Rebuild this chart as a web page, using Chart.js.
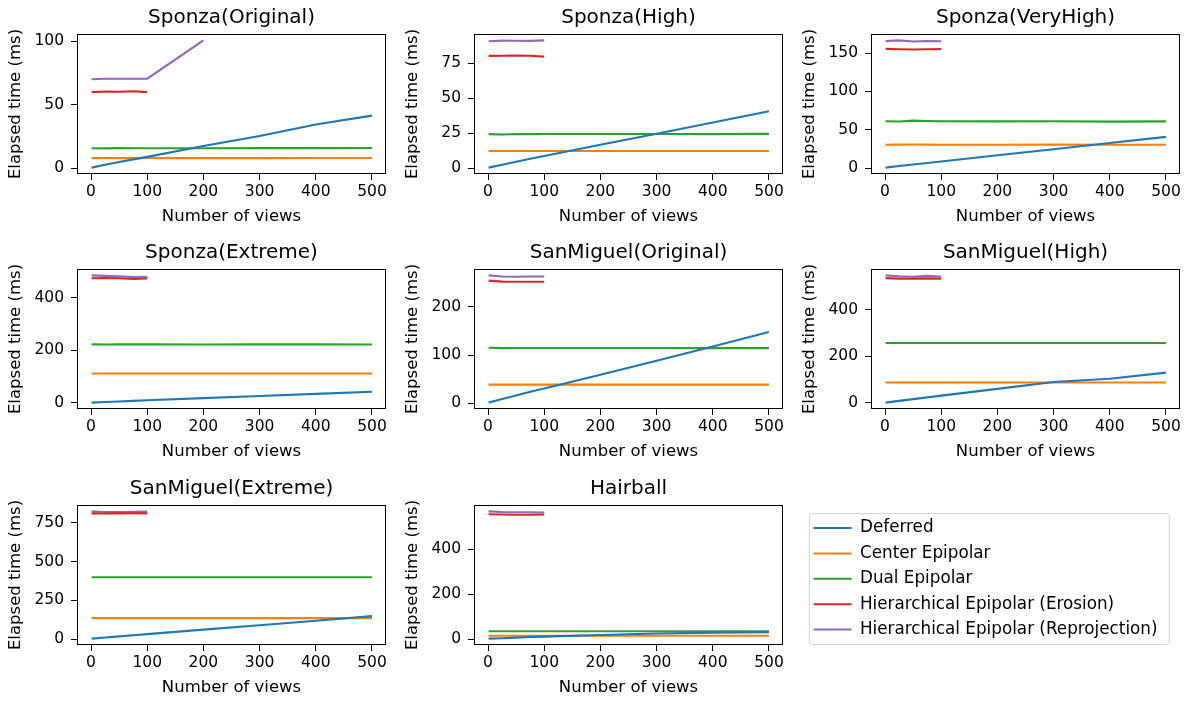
<!DOCTYPE html>
<html>
<head>
<meta charset="utf-8">
<script src="https://cdn.jsdelivr.net/npm/chart.js@4/dist/chart.umd.min.js"></script>
<style>
html,body{margin:0;padding:0;background:#fff;width:1190px;height:702px;overflow:hidden;position:relative;}
.cell{position:absolute;width:397px;height:236px;}
#legendFrame{position:absolute;left:809px;top:513px;width:359px;height:130px;border:1px solid #d6d6d6;border-radius:4px;box-sizing:content-box;}
#legendWrap{position:absolute;left:805px;top:511px;width:700px;height:170px;}
</style>
</head>
<body>
<div id="legendFrame"></div>
<div id="legendWrap"><canvas id="legendCanvas" width="700" height="170"></canvas></div>
<script>
// ---------- data ----------
const views = [1, 25, 50, 75, 100, 200, 300, 400, 500];
const xTicks = [0, 100, 200, 300, 400, 500];
const seriesNames = ['Deferred', 'Center Epipolar', 'Dual Epipolar', 'Hierarchical Epipolar (Erosion)', 'Hierarchical Epipolar (Reprojection)'];
const seriesColors = ['#1f77b4', '#ff7f0e', '#2ca02c', '#d62728', '#9467bd'];
const titles = ['Sponza(Original)', 'Sponza(High)', 'Sponza(VeryHigh)', 'Sponza(Extreme)', 'SanMiguel(Original)', 'SanMiguel(High)', 'SanMiguel(Extreme)', 'Hairball'];

// Sponza(Original)
const soDeferred = [0.5, 2.8, 4.9, 7.0, 9.0, 17.5, 25.5, 34.5, 41.5];
const soCenter   = [8.0, 8.1, 8.0, 8.0, 8.1, 8.0, 8.0, 8.1, 8.1];
const soDual     = [15.8, 15.7, 15.9, 15.8, 15.8, 15.8, 15.9, 15.9, 16.0];
const soErosion  = [60.0, 60.5, 60.3, 60.7, 60.0];
const soReproj   = [70.2, 70.6, 70.5, 70.6, 70.6, 100.8];
const soTicks    = [0, 50, 100];

// Sponza(High)
const shDeferred = [0.3, 2.4, 4.5, 6.6, 8.6, 16.6, 24.5, 32.6, 40.6];
const shCenter   = [12.2, 12.2, 12.2, 12.2, 12.2, 12.2, 12.2, 12.2, 12.2];
const shDual     = [24.2, 24.0, 24.3, 24.2, 24.3, 24.3, 24.3, 24.2, 24.4];
const shErosion  = [80.1, 80.2, 80.4, 80.2, 79.6];
const shReproj   = [90.6, 91.0, 90.9, 90.8, 91.2];
const shTicks    = [0, 25, 50, 75];

// Sponza(VeryHigh)
const svDeferred = [0.5, 2.6, 4.6, 6.6, 8.6, 16.6, 24.6, 32.6, 40.6];
const svCenter   = [30.4, 30.5, 30.6, 30.5, 30.4, 30.4, 30.5, 30.4, 30.4];
const svDual     = [61.0, 60.7, 61.8, 61.3, 61.0, 60.9, 61.0, 60.6, 60.9];
const svErosion  = [155.5, 155.0, 154.7, 155.0, 155.2];
const svReproj   = [165.6, 166.6, 165.2, 165.7, 165.5];
const svTicks    = [0, 50, 100, 150];

// Sponza(Extreme)
const seDeferred = [1.0, 3.2, 5.4, 7.6, 9.8, 18.0, 26.0, 34.3, 42.5];
const seCenter   = [111.5, 111.5, 111.5, 111.5, 111.5, 111.5, 111.5, 111.5, 111.5];
const seDual     = [222.0, 221.8, 222.0, 222.0, 222.0, 221.8, 222.0, 222.0, 221.8];
const seErosion  = [473, 474, 473, 470, 472];
const seReproj   = [484, 482, 480, 478, 479];
const seTicks    = [0, 200, 400];

// SanMiguel(Original)
const moDeferred = [1.5, 9.0, 16.5, 24.0, 31.0, 59.5, 88.5, 118.0, 148.0];
const moCenter   = [38.8, 38.8, 38.8, 38.8, 38.8, 38.8, 38.8, 38.8, 38.8];
const moDual     = [115.3, 114.6, 114.7, 114.8, 114.8, 114.8, 114.7, 114.6, 114.5];
const moErosion  = [254.5, 252.5, 252.3, 252.4, 252.4];
const moReproj   = [265.5, 263.0, 262.7, 263.0, 263.0];
const moTicks    = [0, 100, 200];

// SanMiguel(High)
const mhDeferred = [1.5, 9.0, 16.5, 24.0, 31.5, 60.5, 90.0, 104.0, 130.0];
const mhCenter   = [87.5, 87.5, 87.5, 87.5, 87.5, 87.5, 87.5, 87.5, 87.5];
const mhDual     = [256.5, 256.5, 256.5, 256.5, 256.5, 256.5, 256.5, 256.5, 256.5];
const mhErosion  = [534, 532, 532, 533, 532];
const mhReproj   = [546, 542, 540, 544, 541];
const mhTicks    = [0, 200, 400];

// SanMiguel(Extreme)
const meDeferred = [3.0, 10.0, 17.5, 25.0, 32.0, 61.0, 89.5, 119.0, 148.5];
const meCenter   = [135.5, 135.5, 135.5, 135.5, 135.5, 135.5, 135.5, 135.5, 135.5];
const meDual     = [399, 399, 399, 399, 399, 399, 399, 399, 399];
const meErosion  = [812, 811, 812, 813, 812];
const meReproj   = [825, 821, 820, 822, 823];
const meTicks    = [0, 250, 500, 750];

// Hairball
const hbDeferred = [3.0, 5.0, 7.5, 10.0, 12.0, 19.0, 26.0, 29.5, 31.5];
const hbCenter   = [15.5, 15.5, 15.5, 15.5, 15.5, 15.6, 15.6, 15.6, 15.6];
const hbDual     = [35.5, 35.5, 35.5, 35.5, 35.5, 35.5, 35.5, 35.5, 35.5];
const hbErosion  = [555, 554, 553, 553, 554];
const hbReproj   = [568, 565, 564, 564, 563];
const hbTicks    = [0, 200, 400];

const panels = [
  {title: titles[0], ticks: soTicks, series: [soDeferred, soCenter, soDual, soErosion, soReproj]},
  {title: titles[1], ticks: shTicks, series: [shDeferred, shCenter, shDual, shErosion, shReproj]},
  {title: titles[2], ticks: svTicks, series: [svDeferred, svCenter, svDual, svErosion, svReproj]},
  {title: titles[3], ticks: seTicks, series: [seDeferred, seCenter, seDual, seErosion, seReproj]},
  {title: titles[4], ticks: moTicks, series: [moDeferred, moCenter, moDual, moErosion, moReproj]},
  {title: titles[5], ticks: mhTicks, series: [mhDeferred, mhCenter, mhDual, mhErosion, mhReproj]},
  {title: titles[6], ticks: meTicks, series: [meDeferred, meCenter, meDual, meErosion, meReproj]},
  {title: titles[7], ticks: hbTicks, series: [hbDeferred, hbCenter, hbDual, hbErosion, hbReproj]}
];

// ---------- rendering ----------
Chart.defaults.font.family = "'DejaVu Sans', sans-serif";
Chart.defaults.color = '#000';
Chart.defaults.animation = false;

const FONT_TICK = 15.5, FONT_LABEL = 16.5, FONT_TITLE = 20;

const framePlugin = {
  id: 'frame',
  afterDatasetsDraw(chart) {
    const a = chart.chartArea, ctx = chart.ctx;
    const l = Math.round(a.left) + 0.5, t = Math.round(a.top) + 0.5;
    const r = Math.round(a.right) - 0.5, b = Math.round(a.bottom) - 0.5;
    ctx.save();
    ctx.strokeStyle = '#000';
    ctx.lineWidth = 1;
    ctx.strokeRect(l, t, r - l, b - t);
    ctx.restore();
  }
};

function pad(vals) {
  let mn = Infinity, mx = -Infinity;
  vals.forEach(arr => arr.forEach(v => { if (v < mn) mn = v; if (v > mx) mx = v; }));
  const m = (mx - mn) * 0.05;
  return [mn - m, mx + m];
}

const rowTops = [0, 235, 471];

panels.forEach((p, i) => {
  const col = i % 3, row = Math.floor(i / 3);
  const div = document.createElement('div');
  div.className = 'cell';
  div.style.left = (col * 397) + 'px';
  div.style.top = rowTops[row] + 'px';
  const cv = document.createElement('canvas');
  cv.width = 397; cv.height = 236;
  div.appendChild(cv);
  document.body.appendChild(div);

  const [ymin, ymax] = pad(p.series);
  const xmin = 0 - 0.05 * 500, xmax = 500 + 0.05 * 500;

  new Chart(cv, {
    type: 'line',
    data: {
      datasets: p.series.map((arr, k) => ({
        label: seriesNames[k],
        data: arr.map((v, j) => ({x: views[j], y: v})),
        borderColor: seriesColors[k],
        backgroundColor: seriesColors[k],
        borderWidth: 2.1,
        pointRadius: 0,
        tension: 0,
        fill: false
      }))
    },
    options: {
      responsive: false,
      devicePixelRatio: 1,
      animation: false,
      layout: {padding: {left: 0, right: 11, top: 0, bottom: 0}},
      plugins: {
        legend: {display: false},
        tooltip: {enabled: false},
        title: {
          display: true, text: p.title, fullSize: false,
          font: {size: FONT_TITLE, weight: 'normal', lineHeight: 1.2},
          padding: {top: 6, bottom: 4}, color: '#000'
        }
      },
      scales: {
        x: {
          type: 'linear', min: xmin, max: xmax,
          afterBuildTicks: s => { s.ticks = xTicks.map(v => ({value: v})); },
          afterFit: s => { s.height = 62; },
          grid: {drawOnChartArea: false, drawTicks: true, tickLength: 6, tickColor: '#000', color: '#000'},
          border: {display: false},
          ticks: {font: {size: FONT_TICK}, padding: 3, color: '#000', maxRotation: 0, autoSkip: false},
          title: {display: true, text: 'Number of views', font: {size: FONT_LABEL}, padding: {top: 0, bottom: 9}, color: '#000'}
        },
        y: {
          type: 'linear', min: ymin, max: ymax,
          afterBuildTicks: s => { s.ticks = p.ticks.map(v => ({value: v})); },
          afterFit: s => { s.width = 77; },
          grid: {drawOnChartArea: false, drawTicks: true, tickLength: 6, tickColor: '#000', color: '#000'},
          border: {display: false},
          ticks: {font: {size: FONT_TICK}, padding: 7, color: '#000', autoSkip: false},
          title: {display: true, text: 'Elapsed time (ms)', font: {size: FONT_LABEL}, padding: {top: 6, bottom: 0}, color: '#000'}
        }
      }
    },
    plugins: [framePlugin]
  });
});

// legend
new Chart(document.getElementById('legendCanvas'), {
  type: 'line',
  data: {
    datasets: seriesNames.map((n, k) => ({label: n, data: [], borderColor: seriesColors[k], backgroundColor: seriesColors[k], borderWidth: 2}))
  },
  options: {
    responsive: false,
    devicePixelRatio: 1,
    animation: false,
    scales: {x: {display: false}, y: {display: false}},
    plugins: {
      tooltip: {enabled: false},
      legend: {
        display: true, position: 'left', align: 'start', maxWidth: 600,
        labels: {
          boxWidth: 38, boxHeight: 2, padding: 8.6, color: '#000',
          font: {size: 16.8},
          generateLabels: chart => Chart.defaults.plugins.legend.labels.generateLabels(chart).map(it => Object.assign(it, {lineWidth: 0, fillStyle: it.strokeStyle}))
        }
      }
    }
  }
});
</script>
</body>
</html>
